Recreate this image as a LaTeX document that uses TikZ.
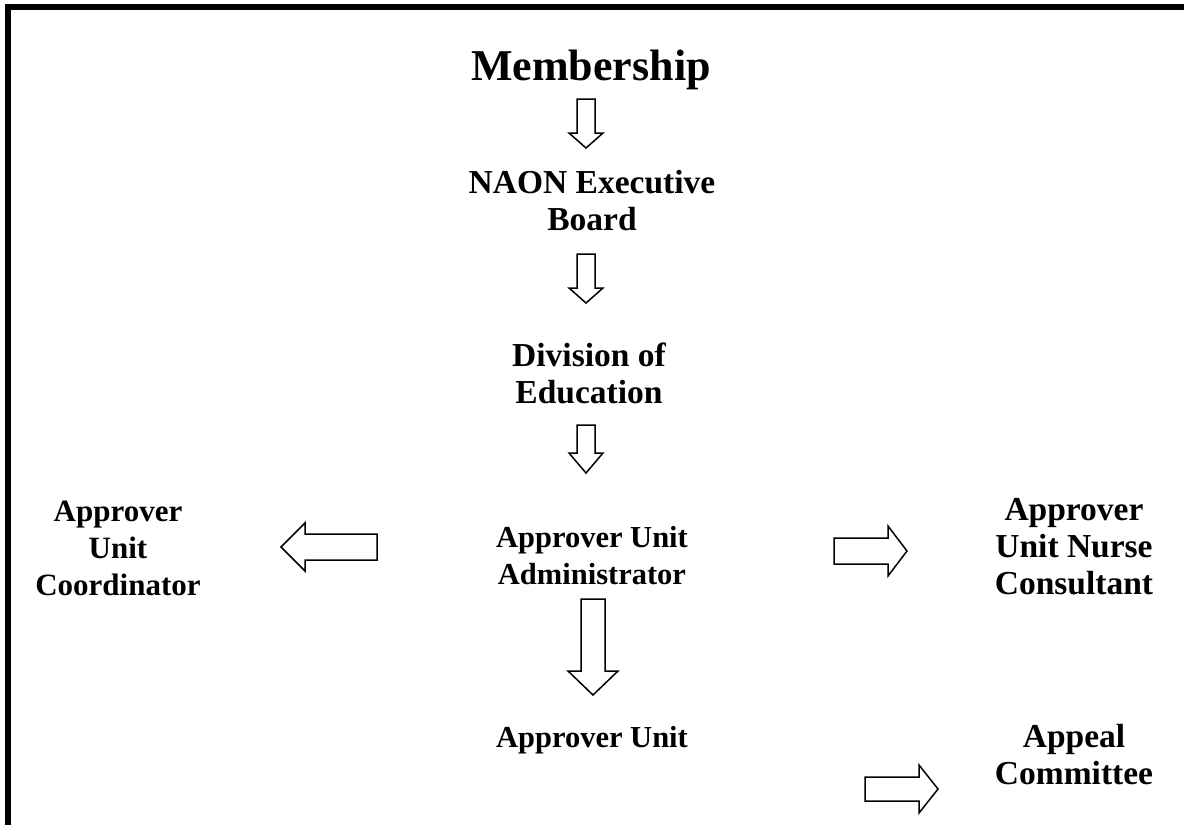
\documentclass[tikz,border=0pt]{standalone}
\usepackage{fontspec}
\setmainfont{Liberation Serif}
\begin{document}
\begin{tikzpicture}[x=1pt, y=-1pt, line join=miter,
		every node/.style={align=center, inner sep=0pt,
			font=\bfseries\fontsize{30.5}{37}\selectfont},
		bigger/.style={font=\bfseries\fontsize{33.5}{37}\selectfont},
		blockarrow/.style={line width=1.5pt}]
		\def \xmax{1184}
		\def \ymax{825}
		\useasboundingbox (0,0) rectangle (\xmax,\ymax);
		% frame: top and left edge only
		\draw[line width=6pt] (8,\ymax)--(8,7)--(\xmax,7);
		% titles
		\node (mship) at (591,70) {\fontsize{44}{50}\selectfont Membership};
		\node[bigger] (board) at (592,201) {NAON Executive\\Board};
		\node[bigger] (division) at (589,373) {Division of\\Education};
		\node (admin) at (592,556) {Approver Unit\\Administrator};
		\node[font=\bfseries\fontsize{31}{37}\selectfont] (coord) at (118,548)
			{Approver\\Unit\\Coordinator};
		\node[bigger] (consult) at (1074,547) {Approver\\Unit Nurse\\Consultant};
		\node (unit) at (592,740) {Approver Unit};
		\node[bigger] (appeal) at (1074,755) {Appeal\\Committee};
		% down arrows: centre x / top / head / tip / shaft / head half width
		\foreach \cx/\yt/\yh/\yp/\s/\h in {586/99/133/148/9/17, 586/254/288/303/9/17,
			586/425/453/473/9/17, 593/599/671/695/12/25}
		\draw[blockarrow] (\cx-\s,\yt)--(\cx+\s,\yt)--(\cx+\s,\yh)--(\cx+\h,\yh)
			--(\cx,\yp)--(\cx-\h,\yh)--(\cx-\s,\yh)--cycle;
		% side arrows: tail x / head x / tip x / centre y / shaft / head half width
		\foreach \xl/\xh/\xp/\cy/\s/\h in {377/305/281/547/13/24, 834/888/907/551/13/25,
			865/919/938/789/12/24}
		\draw[blockarrow] (\xl,\cy-\s)--(\xh,\cy-\s)--(\xh,\cy-\h)--(\xp,\cy)
			--(\xh,\cy+\h)--(\xh,\cy+\s)--(\xl,\cy+\s)--cycle;
	\end{tikzpicture}
\end{document}
